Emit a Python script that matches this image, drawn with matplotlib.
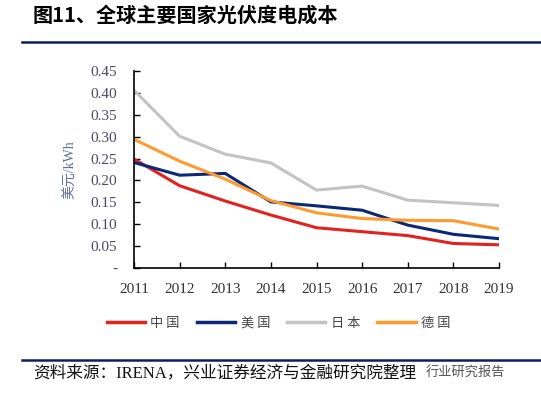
import matplotlib
matplotlib.use('Agg')
import matplotlib.pyplot as plt
from matplotlib.lines import Line2D

years = [2011, 2012, 2013, 2014, 2015, 2016, 2017, 2018, 2019]
china = [0.249, 0.188, 0.153, 0.121, 0.092, 0.083, 0.074, 0.056, 0.053]
usa = [0.241, 0.212, 0.216, 0.151, 0.142, 0.132, 0.098, 0.077, 0.067]
japan = [0.406, 0.301, 0.260, 0.240, 0.178, 0.187, 0.155, 0.149, 0.143]
germany = [0.294, 0.244, 0.203, 0.154, 0.126, 0.113, 0.109, 0.108, 0.089]
names = ['中国', '美国', '日本', '德国']
colors = ['#E3211F', '#0B2878', '#C3C3C3', '#FF9A2E']
yticks = [0, 0.05, 0.10, 0.15, 0.20, 0.25, 0.30, 0.35, 0.40, 0.45]
ylabels = ['-', '0.05', '0.10', '0.15', '0.20', '0.25', '0.30', '0.35', '0.40', '0.45']

cjk = ['Noto Sans CJK SC', 'DejaVu Sans']
serif = ['Liberation Serif', 'DejaVu Serif']
mixed = ['Liberation Serif', 'Noto Sans CJK SC', 'DejaVu Sans']

fig = plt.figure(figsize=(5.41, 3.98), dpi=100)
ax = fig.add_axes([0.2477, 0.3266, 0.6747, 0.495])

for vals, c in zip([china, usa, japan, germany], colors):
    ax.plot(years, vals, color=c, linewidth=2.2, solid_joinstyle='miter')

ax.set_xlim(2011, 2019)
ax.set_ylim(0, 0.45)
ax.set_xticks(years)
ax.set_xticklabels([str(y) for y in years], family=serif, fontsize=11)
ax.set_yticks(yticks)
ax.set_yticklabels(ylabels, family=serif, fontsize=11)
ax.tick_params(direction='in', length=4, width=1, colors='black')
ax.tick_params(axis='y', pad=12)
ax.tick_params(axis='x', pad=11)
for lbl in ax.get_xticklabels():
    lbl.set_color('#333333')
for lbl in ax.get_yticklabels():
    lbl.set_color('#4A4A6A')
for s in ['top', 'right']:
    ax.spines[s].set_visible(False)
for s in ['left', 'bottom']:
    ax.spines[s].set_linewidth(1.2)
ax.set_ylabel('美元/kWh', family=mixed, fontsize=10, color='#6070A0', labelpad=10)

handles = [Line2D([0], [0], color=c, linewidth=2.5) for c in colors]
fig.legend(handles, [' '.join(n) for n in names], loc='center', bbox_to_anchor=(0.515, 0.188),
           ncol=4, frameon=False, prop={'family': cjk, 'size': 9.5}, handlelength=2.9,
           columnspacing=1.3, handletextpad=0.4, labelcolor='#444444')

fig.text(0.06, 0.962, '图11、全球主要国家光伏度电成本', family=cjk, fontsize=14.5,
         fontweight='bold', va='center', ha='left', color='black')
fig.add_artist(Line2D([0.04, 1.0], [0.894, 0.894], color='#0B1F5C', linewidth=1.8))
fig.add_artist(Line2D([0.04, 1.0], [0.0955, 0.0955], color='#0B1F5C', linewidth=1.8))
fig.text(0.062, 0.062, '资料来源：IRENA，兴业证券经济与金融研究院整理', family=mixed, fontsize=12,
         va='center', ha='left', color='#111111')
fig.text(0.934, 0.062, '行业研究报告', family=cjk, fontsize=9.5, va='center', ha='right',
         color='#555555')

fig.savefig('out.png', dpi=100)
